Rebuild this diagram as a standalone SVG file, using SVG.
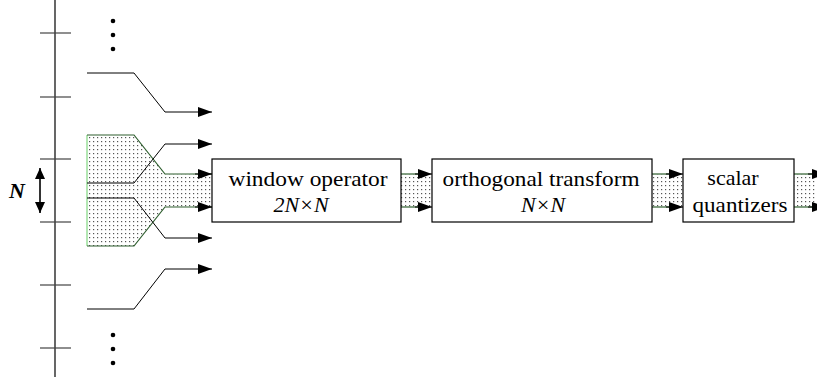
<svg xmlns="http://www.w3.org/2000/svg" width="817" height="377" viewBox="0 0 817 377">
<style>
.ax{stroke:#000;stroke-width:1.2;fill:none}
.tk{stroke:#444;stroke-width:1.2}
.arr{stroke:#000;stroke-width:1;fill:none;marker-end:url(#ah)}
.gl{stroke:#2f5f2f;stroke-width:1.2;fill:none}
.box{fill:#fff;stroke:#000;stroke-width:1.2}
.sh{fill:url(#dots);stroke:none}
text{font-family:'Liberation Serif','Times New Roman',serif;font-size:22px;fill:#000;text-anchor:middle}
.ti{font-style:italic}
</style>
<defs>
<pattern id="dots" width="4" height="4" patternUnits="userSpaceOnUse">
<rect width="4" height="4" fill="#fff"/>
<rect x="1" y="1" width="1.2" height="1.2" fill="#555"/>
</pattern>
<marker id="ah" markerWidth="14" markerHeight="10" refX="14" refY="5" orient="auto" markerUnits="userSpaceOnUse">
<path d="M0,0 L14,5 L0,10 Z" fill="#000"/>
</marker>
<marker id="dh" markerWidth="11" markerHeight="10" refX="11" refY="5" orient="auto-start-reverse" markerUnits="userSpaceOnUse">
<path d="M0,0 L11,5 L0,10 Z" fill="#000"/>
</marker>
</defs>

<g id="axis">
<line class="ax" x1="55" y1="0" x2="55" y2="377"/>
<line class="tk" x1="40" y1="33" x2="71" y2="33"/>
<line class="tk" x1="40" y1="97" x2="71" y2="97"/>
<line class="tk" x1="40" y1="159" x2="71" y2="159"/>
<line class="tk" x1="40" y1="222" x2="71" y2="222"/>
<line class="tk" x1="40" y1="285" x2="71" y2="285"/>
<line class="tk" x1="40" y1="348" x2="71" y2="348"/>
</g>

<g id="dots-top">
<circle cx="113" cy="21" r="2.3" fill="#000"/>
<circle cx="113" cy="35" r="2.3" fill="#000"/>
<circle cx="113" cy="49" r="2.3" fill="#000"/>
</g>
<g id="dots-bottom">
<circle cx="113" cy="335" r="2.3" fill="#000"/>
<circle cx="113" cy="349" r="2.3" fill="#000"/>
<circle cx="113" cy="363" r="2.3" fill="#000"/>
</g>

<g id="n-label">
<line x1="40" y1="168" x2="40" y2="213" stroke="#000" stroke-width="1.6" marker-start="url(#dh)" marker-end="url(#dh)"/>
<text x="17" y="198" font-family="Liberation Serif, serif" font-style="italic" font-weight="bold" font-size="23">N</text>
</g>

<g id="window-region">
<polygon class="sh" points="87,135 134,135 165,174 212,174 212,207 165,207 134,246 87,246"/>
<line x1="87" y1="135" x2="87" y2="246" stroke="#7fd67f" stroke-width="1.2"/>
<polyline class="gl" points="87,135 134,135 165,174 212,174"/>
<polyline class="gl" points="87,246 134,246 165,207 212,207"/>
</g>

<g id="connectors">
<polyline class="arr" points="87,73 134,73 165,112 212,112"/>
<polyline class="arr" points="87,183 134,183 165,144 212,144"/>
<polyline class="arr" points="87,198 134,198 165,238 212,238"/>
<polyline class="arr" points="87,309 134,309 165,269 212,269"/>
<line class="arr" x1="195" y1="174" x2="212" y2="174"/>
<line class="arr" x1="195" y1="207" x2="212" y2="207"/>

<rect class="sh" x="401" y="174" width="31" height="33"/>
<line class="gl" x1="401" y1="174" x2="420" y2="174"/>
<line class="gl" x1="401" y1="207" x2="420" y2="207"/>
<line class="arr" x1="415" y1="174" x2="432" y2="174"/>
<line class="arr" x1="415" y1="207" x2="432" y2="207"/>

<rect class="sh" x="652" y="174" width="31" height="33"/>
<line class="gl" x1="652" y1="174" x2="671" y2="174"/>
<line class="gl" x1="652" y1="207" x2="671" y2="207"/>
<line class="arr" x1="666" y1="174" x2="683" y2="174"/>
<line class="arr" x1="666" y1="207" x2="683" y2="207"/>

<rect class="sh" x="794" y="174" width="23" height="33"/>
<line class="gl" x1="794" y1="174" x2="812" y2="174"/>
<line class="gl" x1="794" y1="207" x2="812" y2="207"/>
<line class="arr" x1="808" y1="174" x2="826" y2="174"/>
<line class="arr" x1="808" y1="207" x2="826" y2="207"/>
</g>

<g id="window-operator" font-family="Liberation Serif, serif">
<rect class="box" x="212" y="159" width="189" height="63"/>
<text x="308" y="186" textLength="159" lengthAdjust="spacingAndGlyphs">window operator</text>
<text class="ti" x="301" y="212">2N×N</text>
</g>

<g id="orthogonal-transform" font-family="Liberation Serif, serif">
<rect class="box" x="432" y="159" width="220" height="63"/>
<text x="541" y="186" textLength="197" lengthAdjust="spacingAndGlyphs">orthogonal transform</text>
<text class="ti" x="543" y="212">N×N</text>
</g>

<g id="scalar-quantizers" font-family="Liberation Serif, serif">
<rect class="box" x="683" y="159" width="111" height="63"/>
<text x="733" y="185">scalar</text>
<text x="740" y="212" textLength="95" lengthAdjust="spacingAndGlyphs">quantizers</text>
</g>
</svg>
